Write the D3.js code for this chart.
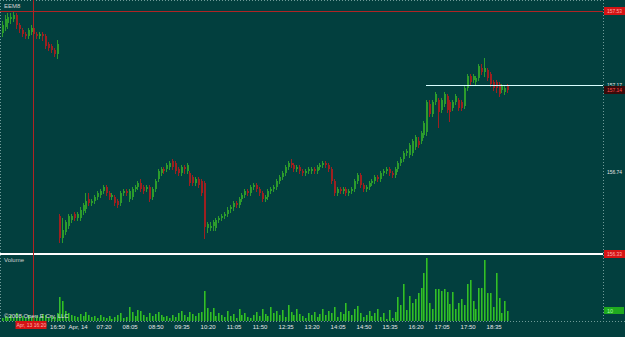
<!DOCTYPE html>
<html><head><meta charset="utf-8">
<script src="https://cdn.jsdelivr.net/npm/d3@7"></script>
<style>html,body{margin:0;padding:0;background:#023f3e;overflow:hidden}</style>
</head><body><svg id="c" width="625" height="337"></svg>
<script>
const symbol = "EEM8";
const copyright = "\u00A92008 Open E Cry, LLC";
const volumeTitle = "Volume";

const opens = [
157.42,157.45,157.47,157.49,157.49,157.51,157.46,157.44,157.42,157.41,157.43,157.45,157.42,157.41,157.42,157.41,157.37,157.36,157.34,157.32,
156.52,156.41,156.44,156.47,156.50,156.53,156.51,156.51,156.54,156.55,156.60,156.58,156.59,156.61,156.62,156.64,156.66,156.63,156.61,156.61,
156.59,156.58,156.63,156.64,156.60,156.61,156.65,156.66,156.68,156.66,156.65,156.66,156.61,156.65,156.70,156.73,156.75,156.75,156.76,156.79,
156.78,156.75,156.73,156.76,156.74,156.73,156.71,156.68,156.70,156.69,156.68,156.46,156.46,156.47,156.46,156.50,156.51,156.52,156.53,156.55,
156.56,156.58,156.57,156.60,156.62,156.64,156.63,156.66,156.67,156.65,156.63,156.60,156.61,156.64,156.65,156.66,156.69,156.71,156.73,156.76,
156.78,156.77,156.75,156.76,156.74,156.73,156.74,156.74,156.75,156.74,156.76,156.77,156.78,156.77,156.75,156.69,156.63,156.65,156.64,156.65,
156.63,156.64,156.65,156.69,156.72,156.67,156.65,156.66,156.68,156.69,156.71,156.70,156.73,156.74,156.75,156.73,156.72,156.75,156.78,156.80,
156.83,156.82,156.83,156.86,156.89,156.89,156.92,156.93,157.07,157.02,157.08,157.09,157.04,157.07,157.11,157.08,157.05,157.08,157.09,157.08,
157.06,157.15,157.21,157.19,157.18,157.20,157.25,157.23,157.24,157.22,157.18,157.18,157.17,157.14,157.13,157.16];
const highs = [
157.48,157.51,157.52,157.52,157.53,157.52,157.47,157.45,157.43,157.45,157.46,157.46,157.43,157.43,157.43,157.42,157.38,157.37,157.35,157.39,
156.53,156.51,156.50,156.53,156.53,156.54,156.54,156.56,156.58,156.63,156.63,156.60,156.62,156.64,156.65,156.67,156.67,156.64,156.63,156.62,
156.60,156.64,156.65,156.65,156.65,156.66,156.67,156.69,156.70,156.67,156.67,156.67,156.66,156.70,156.75,156.76,156.76,156.78,156.79,156.80,
156.79,156.76,156.77,156.77,156.78,156.74,156.72,156.71,156.71,156.70,156.69,156.49,156.49,156.50,156.51,156.52,156.53,156.54,156.56,156.57,
156.59,156.59,156.61,156.63,156.65,156.65,156.67,156.68,156.68,156.66,156.64,156.62,156.65,156.66,156.67,156.70,156.72,156.74,156.77,156.79,
156.80,156.78,156.77,156.77,156.75,156.75,156.76,156.76,156.76,156.77,156.78,156.79,156.79,156.78,156.76,156.70,156.66,156.66,156.66,156.66,
156.65,156.66,156.70,156.73,156.73,156.68,156.67,156.69,156.70,156.72,156.72,156.74,156.75,156.76,156.76,156.74,156.76,156.79,156.81,156.84,
156.85,156.88,156.90,156.92,156.91,156.94,156.99,157.09,157.09,157.09,157.13,157.10,157.10,157.13,157.12,157.09,157.09,157.12,157.10,157.09,
157.16,157.22,157.22,157.22,157.21,157.27,157.27,157.30,157.25,157.23,157.19,157.19,157.18,157.17,157.16,157.17];
const lows = [
157.41,157.44,157.45,157.47,157.48,157.45,157.43,157.41,157.40,157.40,157.42,157.41,157.40,157.40,157.39,157.35,157.34,157.33,157.31,157.30,
156.39,156.39,156.43,156.46,156.49,156.50,156.50,156.50,156.53,156.54,156.57,156.57,156.58,156.60,156.61,156.63,156.62,156.60,156.60,156.57,
156.56,156.57,156.62,156.62,156.59,156.60,156.64,156.65,156.64,156.63,156.64,156.59,156.60,156.64,156.69,156.72,156.73,156.74,156.75,156.75,
156.73,156.72,156.72,156.73,156.73,156.67,156.67,156.67,156.66,156.62,156.41,156.44,156.45,156.45,156.45,156.49,156.50,156.51,156.52,156.54,
156.55,156.56,156.56,156.59,156.61,156.62,156.62,156.65,156.64,156.62,156.59,156.59,156.60,156.63,156.64,156.65,156.68,156.70,156.72,156.75,
156.76,156.74,156.74,156.73,156.72,156.72,156.73,156.73,156.73,156.73,156.75,156.76,156.76,156.74,156.68,156.62,156.62,156.63,156.63,156.62,
156.62,156.63,156.64,156.68,156.66,156.64,156.64,156.65,156.67,156.68,156.69,156.69,156.72,156.73,156.72,156.71,156.71,156.74,156.77,156.79,
156.82,156.81,156.82,156.85,156.86,156.88,156.91,156.92,157.01,157.01,157.07,156.96,157.03,157.06,157.03,156.99,157.04,157.07,157.04,157.04,
157.05,157.14,157.17,157.18,157.17,157.19,157.22,157.21,157.19,157.16,157.14,157.13,157.11,157.13,157.12,157.13];
const closes = [
157.46,157.49,157.50,157.50,157.51,157.46,157.44,157.42,157.41,157.44,157.45,157.42,157.41,157.42,157.41,157.36,157.35,157.34,157.32,157.37,
156.41,156.45,156.49,156.52,156.52,156.51,156.53,156.55,156.57,156.59,156.58,156.59,156.61,156.63,156.64,156.66,156.63,156.61,156.62,156.58,
156.57,156.63,156.64,156.63,156.64,156.65,156.66,156.68,156.65,156.64,156.66,156.60,156.65,156.69,156.74,156.75,156.74,156.77,156.78,156.76,
156.74,156.73,156.76,156.75,156.77,156.68,156.68,156.70,156.67,156.63,156.46,156.48,156.47,156.49,156.50,156.51,156.52,156.53,156.55,156.56,
156.58,156.57,156.60,156.62,156.64,156.63,156.66,156.67,156.65,156.63,156.60,156.61,156.64,156.65,156.66,156.69,156.71,156.73,156.76,156.78,
156.77,156.75,156.76,156.74,156.73,156.74,156.75,156.75,156.74,156.76,156.77,156.78,156.77,156.75,156.69,156.63,156.65,156.64,156.65,156.63,
156.64,156.65,156.69,156.72,156.67,156.65,156.66,156.68,156.69,156.71,156.70,156.73,156.74,156.75,156.73,156.72,156.75,156.78,156.80,156.83,
156.84,156.87,156.89,156.91,156.87,156.93,156.98,157.08,157.02,157.08,157.12,157.03,157.09,157.12,157.04,157.03,157.08,157.11,157.05,157.05,
157.15,157.21,157.18,157.21,157.20,157.26,157.23,157.25,157.20,157.17,157.15,157.15,157.12,157.16,157.15,157.14];
const volumes = [
3,5,4,6,3,8,4,5,3,6,4,3,5,4,7,6,3,5,4,8,
24,20,10,8,6,5,4,7,5,9,6,4,5,3,6,4,3,5,2,4,
6,8,3,4,14,9,5,11,10,6,4,8,5,7,9,6,4,5,3,6,
4,8,10,6,4,9,7,5,8,9,30,13,9,13,5,8,6,4,10,5,
7,3,12,6,8,4,3,6,9,5,12,7,5,14,8,10,6,11,4,16,
9,6,12,7,5,3,8,6,9,4,7,12,6,10,8,14,4,9,7,18,
10,6,12,15,8,4,6,10,5,8,12,4,8,2,11,3,9,24,16,38,
11,25,18,22,28,34,49,64,18,12,32,33,30,33,29,17,29,12,18,22,
16,38,42,20,12,34,34,62,28,28,14,49,23,8,20,10];

const tickBars   = [17, 26, 35, 44, 53, 62, 71, 80, 89, 98, 107, 116, 125, 134, 143, 152, 161, 170];
const tickLabels = ["16:50","Apr, 14","07:20","08:05","08:50","09:35","10:20","11:05","11:50","12:35","13:20","14:05","14:50","15:35","16:20","17:05","17:50","18:35"];
const priceTicks = [156.74, 157.17];
const linePrice = 157.17;
const lineStartBar = 147;
const crossBar = 11;
const crossPrice = 157.53;
const crossTimeLabel = "Apr, 13 16:20";
const lowMarkPrice = 156.33;

// ---------- layout ----------
const W = 625, H = 337, plotR = 603;
const priceBot = 254, volTop = 257, volBot = 321;
const BG = "#023f3e";
const UP = "#2c9c2c", DOWN = "#9e2020";

const svg = d3.select("#c");
svg.append("rect").attr("width", W).attr("height", H).attr("fill", BG);
const g = svg.append("g").attr("shape-rendering", "crispEdges");

const n = opens.length;
const x = d3.scaleBand().domain(d3.range(n)).range([1.5, 1.5 + n * 2.889]).padding(0);
const y = d3.scaleLinear().domain([156.33, 157.586]).range([priceBot, 0]);
const yv = d3.scaleLinear().domain([0, 65]).range([volBot, volTop]);
const bx = i => Math.round(x(i) + 0.2);

const dot = "#6f9a98";
g.append("line").attr("x1", 0).attr("x2", plotR).attr("y1", 0.5).attr("y2", 0.5).attr("stroke", dot).attr("stroke-dasharray", "1,2");
g.append("line").attr("x1", 0.5).attr("x2", 0.5).attr("y1", 0).attr("y2", volBot).attr("stroke", dot).attr("stroke-dasharray", "1,2");
g.append("line").attr("x1", plotR + 0.5).attr("x2", plotR + 0.5).attr("y1", 0).attr("y2", volBot).attr("stroke", dot).attr("stroke-dasharray", "1,2");
g.append("line").attr("x1", 0).attr("x2", W).attr("y1", volBot + 0.5).attr("y2", volBot + 0.5).attr("stroke", dot).attr("stroke-dasharray", "1,2");

const idx = d3.range(n);
g.selectAll("line.wick").data(idx).join("line").attr("class", "wick")
  .attr("x1", i => bx(i) + 0.5).attr("x2", i => bx(i) + 0.5)
  .attr("y1", i => Math.round(y(highs[i]))).attr("y2", i => Math.round(y(lows[i])) + 1)
  .attr("stroke", i => closes[i] >= opens[i] ? UP : DOWN);
g.selectAll("rect.body").data(idx).join("rect").attr("class", "body")
  .attr("x", i => bx(i)).attr("width", 2)
  .attr("y", i => Math.round(y(Math.max(opens[i], closes[i]))))
  .attr("height", i => Math.max(1, Math.round(Math.abs(y(opens[i]) - y(closes[i])))))
  .attr("fill", i => closes[i] >= opens[i] ? UP : DOWN);

g.selectAll("rect.vol").data(idx).join("rect").attr("class", "vol")
  .attr("x", i => bx(i)).attr("width", 2)
  .attr("y", i => Math.round(yv(volumes[i])))
  .attr("height", i => volBot - Math.round(yv(volumes[i])))
  .attr("fill", "#1a8f1a");
g.selectAll("rect.volhi").data(idx).join("rect").attr("class", "volhi")
  .attr("x", i => bx(i)).attr("width", 1)
  .attr("y", i => Math.round(yv(volumes[i])))
  .attr("height", i => volBot - Math.round(yv(volumes[i])))
  .attr("fill", "#33bb33");

g.append("line").attr("x1", 0).attr("x2", plotR).attr("y1", Math.round(y(lowMarkPrice))).attr("y2", Math.round(y(lowMarkPrice)))
  .attr("stroke", "#ffffff").attr("stroke-width", 2);

const ly = Math.round(y(linePrice)) + 1.5;
g.append("line").attr("x1", bx(lineStartBar)).attr("x2", plotR).attr("y1", ly).attr("y2", ly).attr("stroke", "#d8ffff");

const cy = Math.round(y(crossPrice)) + 0.5, cx = bx(crossBar) + 0.5;
g.append("line").attr("x1", 0).attr("x2", plotR).attr("y1", cy).attr("y2", cy).attr("stroke", "#b02424");
g.append("line").attr("x1", cx).attr("x2", cx).attr("y1", 0).attr("y2", volBot).attr("stroke", "#b02424");

const font = "'Liberation Sans', Arial, sans-serif";
const xAxis = d3.axisBottom(x).tickValues(tickBars).tickSize(0).tickPadding(0)
  .tickFormat((d, k) => tickLabels[k]);
const xa = svg.append("g").attr("transform", `translate(0,${volBot + 1})`).call(xAxis);
xa.select(".domain").remove();
xa.selectAll("text").attr("fill", "#e6e6e6").attr("font-size", 6).attr("font-family", font).attr("dy", "0.85em").attr("y", 1.5);
xa.selectAll(".tick").filter((d, k) => k === 0).select("text").attr("text-anchor", "start").attr("x", -2);

const yAxis = d3.axisRight(y).tickValues(priceTicks).tickSize(0).tickPadding(0).tickFormat(d3.format(".2f"));
const ya = svg.append("g").attr("transform", `translate(${plotR + 4},0)`).call(yAxis);
ya.select(".domain").remove();
ya.selectAll("text").attr("fill", "#e6e6e6").attr("font-size", 6).attr("font-family", font)
  .attr("textLength", 15).attr("lengthAdjust", "spacingAndGlyphs");

function rbox(price, fill, txtFill) {
  const yy = Math.round(y(price));
  svg.append("rect").attr("x", plotR + 1).attr("y", yy - 4).attr("width", 21).attr("height", 8).attr("fill", fill);
  svg.append("text").attr("x", plotR + 4).attr("y", yy + 2.2).text(d3.format(".2f")(price))
    .attr("fill", txtFill).attr("font-size", 6).attr("font-family", font)
    .attr("textLength", 15).attr("lengthAdjust", "spacingAndGlyphs");
}
rbox(crossPrice, "#d41414", "#ffb0b0");
rbox(closes[n - 1], "#3a0a0a", "#ff5050");
rbox(lowMarkPrice, "#d41414", "#ffb0b0");
const vy = Math.round(yv(volumes[n - 1]));
svg.append("rect").attr("x", plotR + 1).attr("y", vy - 4).attr("width", 20).attr("height", 7).attr("fill", "#1faa1f");
svg.append("text").attr("x", plotR + 4).attr("y", vy + 2).text(volumes[n - 1])
  .attr("fill", "#a0ffa0").attr("font-size", 5.5).attr("font-family", font);

svg.append("rect").attr("x", cx - 18).attr("y", volBot).attr("width", 31).attr("height", 8).attr("fill", "#d41414");
svg.append("text").attr("x", cx - 17).attr("y", volBot + 6.2).text(crossTimeLabel)
  .attr("fill", "#ffb0b0").attr("font-size", 5).attr("font-family", font);

svg.append("text").attr("x", 4).attr("y", 8).text(symbol).attr("fill", "#cfcfcf").attr("font-size", 6).attr("font-family", font);
svg.append("text").attr("x", 4).attr("y", 262).text(volumeTitle).attr("fill", "#cfcfcf").attr("font-size", 6).attr("font-family", font);
svg.append("text").attr("x", 4).attr("y", 318).text(copyright).attr("fill", "#e0e0e0").attr("font-size", 6).attr("font-family", font);
</script></body></html>
